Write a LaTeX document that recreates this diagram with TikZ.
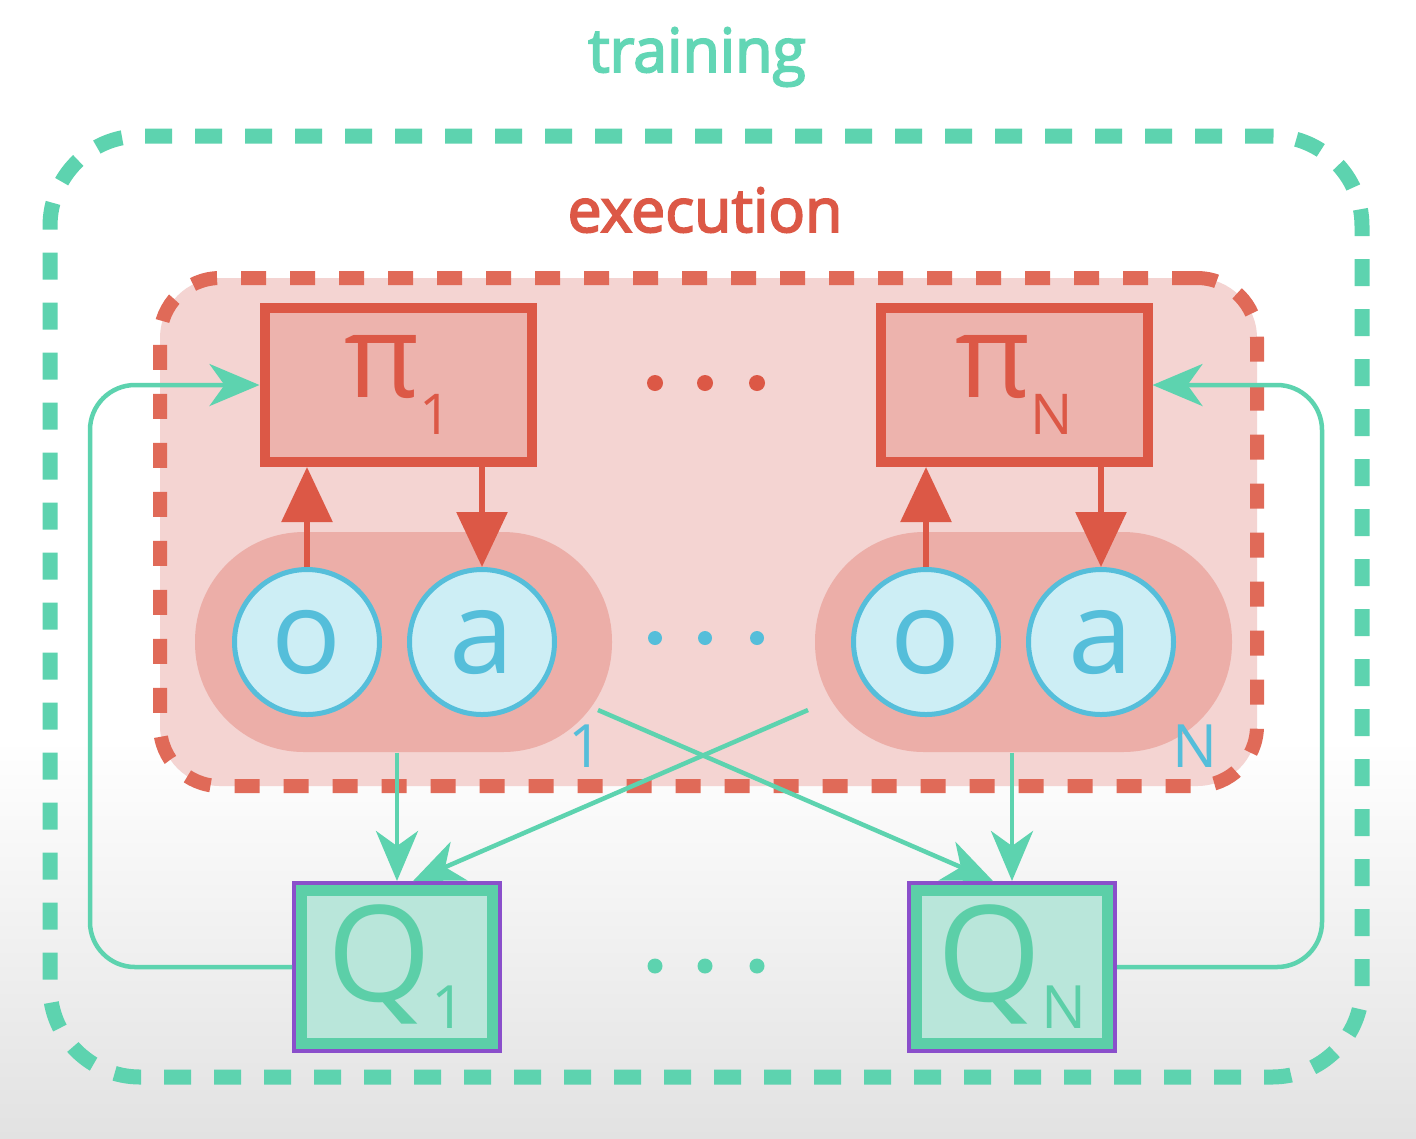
\documentclass[tikz,border=0pt]{standalone}
\usepackage{fontspec}
\setmainfont{Open Sans}
\newfontfamily\titlefont{Open Sans}[FakeBold=3]
\usepackage{xcolor}
\usetikzlibrary{arrows.meta,positioning}

\definecolor{tealc}{HTML}{5DD3AF}
\definecolor{trainTxt}{HTML}{62D6B5}
\definecolor{execred}{HTML}{E06A58}
\definecolor{execfill}{HTML}{F4D4D2}
\definecolor{pired}{HTML}{DC5846}
\definecolor{pifill}{HTML}{EDB3AD}
\definecolor{pillfill}{HTML}{ECAEA8}
\definecolor{varblue}{HTML}{55BEDA}
\definecolor{varfill}{HTML}{CDEEF5}
\definecolor{qteal}{HTML}{5CCFA8}
\definecolor{qfill}{HTML}{B9E6DA}
\definecolor{qpurple}{HTML}{8A4FCB}
\definecolor{bggray}{HTML}{E2E2E2}

\begin{document}
\begin{tikzpicture}[
    x=0.1mm, y=-0.1mm,
    trainbox/.style={rectangle, draw=tealc, line width=1.5mm, dash pattern=on 2.7mm off 2.3mm, rounded corners=9mm, minimum width=131.2mm, minimum height=94.1mm},
    execbox/.style={rectangle, draw=execred, fill=execfill, line width=1.4mm, dash pattern=on 2.5mm off 2.4mm, rounded corners=6mm, minimum width=109.7mm, minimum height=50.8mm},
    title/.style={font=\fontsize{17.3}{17.3}\titlefont},
    policy/.style={rectangle, draw=pired, fill=pifill, line width=1mm, minimum width=26.7mm, minimum height=15.4mm, inner sep=0pt, text=pired, font=\fontsize{33}{33}\selectfont},
    pill/.style={rectangle, fill=pillfill, rounded corners=10.9mm, minimum width=41.7mm, minimum height=22mm},
    var/.style={circle, draw=varblue, fill=varfill, line width=0.5mm, minimum size=14.5mm, inner sep=0pt, text=varblue, font=\fontsize{33}{33}\selectfont},
    critic/.style={rectangle, draw=qteal, fill=qfill, line width=1.1mm, preaction={draw=qpurple, line width=1.9mm}, minimum width=19.1mm, minimum height=15.3mm, inner sep=0pt, outer sep=0.95mm, text=qteal, font=\fontsize{38}{38}\selectfont},
    idx/.style={text=varblue, font=\fontsize{17}{17}\selectfont},
    tarrow/.style={draw=tealc, line width=0.45mm, -{Stealth[length=5mm, width=4.2mm, inset=1.5mm]}},
    rarrow/.style={draw=pired, line width=0.6mm, -{Triangle[length=5.5mm, width=5mm]}}
]

% background
\fill[white] (0,0) rectangle (1416,740);
\shade[top color=white, bottom color=bggray] (0,740) rectangle (1416,1138);
\useasboundingbox (0,0) rectangle (1416,1138);

% frames
\node[trainbox] (train) at (706,606.5) {};
\node[title, text=trainTxt] (traintxt) at (697,57) {training};
\node[execbox] (exec) at (708.5,532) {};
\node[title, text=pired] (exectxt) at (705,210) {execution};

% agents
\node[pill] (pill1) at (403.5,642) {};
\node[pill] (pillN) at (1023.5,642) {};
\node[var] (o1) at (307,642) {o};
\node[var, right=2.5mm of o1] (a1) {a};
\node[var] (oN) at (926,642) {o};
\node[var, right=2.5mm of oN] (aN) {a};
\node[idx] (idx1) at (586,746) {1};
\node[idx] (idxN) at (1195,746) {N};

\node[policy] (pi1) at (398,385) {π\raisebox{-10.5pt}{\fontsize{16}{16}\selectfont 1}};
\node[policy] (piN) at (1014,385) {π\raisebox{-10.5pt}{\fontsize{16}{16}\selectfont N}};

\draw[rarrow] (o1.north) -- (o1.north |- pi1.south);
\draw[rarrow] (a1.north |- pi1.south) -- (a1.north);
\draw[rarrow] (oN.north) -- (oN.north |- piN.south);
\draw[rarrow] (aN.north |- piN.south) -- (aN.north);

% critics
\node[critic] (q1) at (397,967) {Q\raisebox{-7.7pt}{\fontsize{17}{17}\selectfont 1}};
\node[critic] (qN) at (1012,967) {Q\raisebox{-7.7pt}{\fontsize{17}{17}\selectfont N}};

\coordinate (src1) at (598,710);
\coordinate (srcN) at (808,710);
\coordinate (railL) at (90,675);
\coordinate (railR) at (1322,675);

\draw[tarrow] (pill1.south -| q1.north) -- (q1.north);
\draw[tarrow] (pillN.south -| qN.north) -- (qN.north);
\draw[tarrow] (src1) -- ([xshift=-1.9mm]qN.north);
\draw[tarrow] (srcN) -- ([xshift=1.6mm]q1.north);
\draw[tarrow, rounded corners=4.5mm] (q1.west) -| (railL) |- (pi1.west);
\draw[tarrow, rounded corners=4.5mm] (qN.east) -| (railR) |- (piN.east);

% dots
\foreach \x in {655,705,757} {
  \fill[pired] (\x,383) circle (0.8mm);
  \fill[varblue] (\x,638) circle (0.7mm);
  \fill[tealc] (\x,966) circle (0.75mm);
}

\end{tikzpicture}
\end{document}
